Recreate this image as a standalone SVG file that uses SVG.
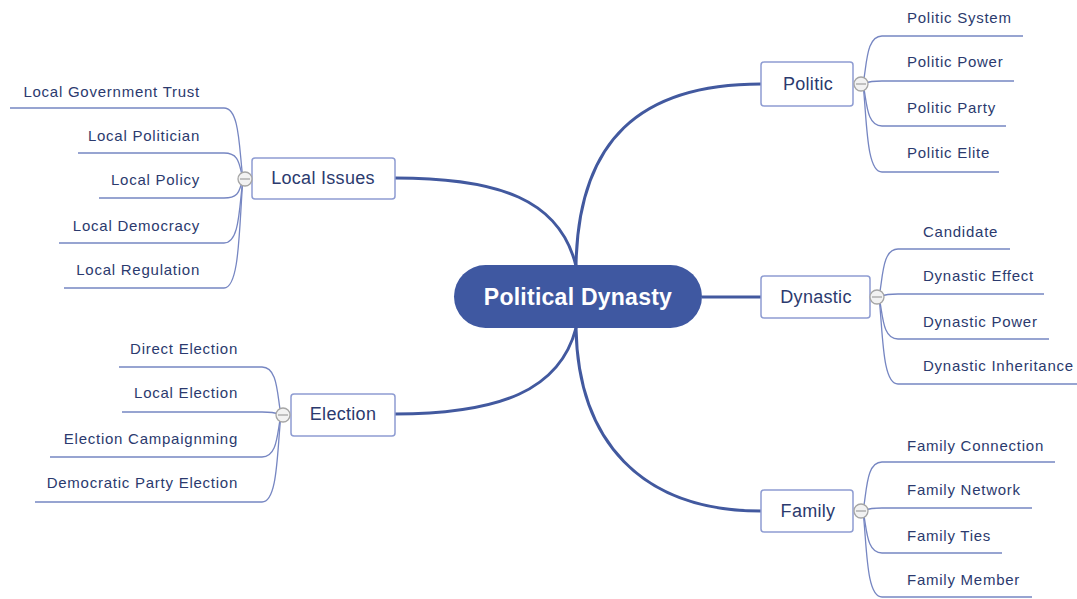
<svg xmlns="http://www.w3.org/2000/svg" width="1077" height="599" viewBox="0 0 1077 599">
<style>
.main{fill:none;stroke:#42599f;stroke-width:3}
.sub{fill:none;stroke:#7686c2;stroke-width:1.3}
.box{fill:#fff;stroke:#8e9cd2;stroke-width:1.5}
.bt{font-family:"Liberation Sans",Arial,sans-serif;font-size:18px;fill:#2b3a6e;text-anchor:middle;letter-spacing:0.3px}
.ct{font-family:"Liberation Sans",Arial,sans-serif;font-size:15px;fill:#2b3a6e;letter-spacing:0.75px}
.ctr{text-anchor:end}
.tog circle{fill:#f2f2f2;stroke:#a5a5a5;stroke-width:1.3}
.tog line{stroke:#a5a5a5;stroke-width:1.3}
</style>
<rect width="1077" height="599" fill="#fff"/>
<g id="connectors">
<path class="main" d="M576,266 C578,140 640,84 761,84"/>
<path class="main" d="M576,266 C560,200 500,178 395,178"/>
<path class="main" d="M576,328 C560,390 500,414 395,414"/>
<path class="main" d="M576,328 C578,440 640,511 761,511"/>
<path class="main" d="M702,297 H761"/>
<path class="sub" d="M863,84 C867,65 866,36 882,36 H1023"/>
<path class="sub" d="M863,84 C867,83 866,81 882,81 H1014"/>
<path class="sub" d="M863,84 C867,101 866,126 882,126 H1006"/>
<path class="sub" d="M863,84 C867,119 866,172 882,172 H999"/>
<path class="sub" d="M879,297 C883,278 882,249 898,249 H1010"/>
<path class="sub" d="M879,297 C883,296 882,294 898,294 H1044"/>
<path class="sub" d="M879,297 C883,314 882,339 898,339 H1049"/>
<path class="sub" d="M879,297 C883,332 882,384 898,384 H1077"/>
<path class="sub" d="M863,511 C867,491 866,462 882,462 H1055"/>
<path class="sub" d="M863,511 C867,510 866,508 882,508 H1032"/>
<path class="sub" d="M863,511 C867,528 866,553 882,553 H1002"/>
<path class="sub" d="M863,511 C867,546 866,597 882,597 H1032"/>
<path class="sub" d="M243,179 C239,150 240,108 224,108 H10"/>
<path class="sub" d="M243,179 C239,165 240,153 224,153 H78"/>
<path class="sub" d="M243,179 C239,190 240,198 224,198 H99"/>
<path class="sub" d="M243,179 C239,207 240,243 224,243 H59"/>
<path class="sub" d="M243,179 C239,225 240,288 224,288 H64"/>
<path class="sub" d="M281,415 C277,395 278,367 262,367 H119"/>
<path class="sub" d="M281,415 C277,414 278,412 262,412 H122"/>
<path class="sub" d="M281,415 C277,432 278,457 262,457 H50"/>
<path class="sub" d="M281,415 C277,450 278,502 262,502 H35"/>
</g>
<g id="central">
<rect x="454" y="265" width="248" height="63" rx="31.5" fill="#3f58a1"/>
<text x="578" y="305" font-family="'Liberation Sans',Arial,sans-serif" font-size="23" font-weight="bold" fill="#fff" text-anchor="middle" letter-spacing="0.25">Political Dynasty</text>
</g>
<g id="politic">
<rect class="box" x="761" y="62" width="92" height="44" rx="3"/>
<text class="bt" x="808" y="90">Politic</text>
<g class="tog"><circle cx="861" cy="84" r="7"/><line x1="856" y1="84" x2="866" y2="84"/></g>
</g>
<g id="politic-children">
<text class="ct" x="907" y="23">Politic System</text>
<text class="ct" x="907" y="67">Politic Power</text>
<text class="ct" x="907" y="113">Politic Party</text>
<text class="ct" x="907" y="158">Politic Elite</text>
</g>
<g id="dynastic">
<rect class="box" x="761" y="276" width="109" height="42" rx="3"/>
<text class="bt" x="816" y="303">Dynastic</text>
<g class="tog"><circle cx="877" cy="297" r="7"/><line x1="872" y1="297" x2="882" y2="297"/></g>
</g>
<g id="dynastic-children">
<text class="ct" x="923" y="237">Candidate</text>
<text class="ct" x="923" y="281">Dynastic Effect</text>
<text class="ct" x="923" y="327">Dynastic Power</text>
<text class="ct" x="923" y="371">Dynastic Inheritance</text>
</g>
<g id="family">
<rect class="box" x="761" y="490" width="92" height="42" rx="3"/>
<text class="bt" x="808" y="517">Family</text>
<g class="tog"><circle cx="861" cy="511" r="7"/><line x1="856" y1="511" x2="866" y2="511"/></g>
</g>
<g id="family-children">
<text class="ct" x="907" y="451">Family Connection</text>
<text class="ct" x="907" y="495">Family Network</text>
<text class="ct" x="907" y="541">Family Ties</text>
<text class="ct" x="907" y="585">Family Member</text>
</g>
<g id="local-issues">
<rect class="box" x="252" y="158" width="143" height="41" rx="3"/>
<text class="bt" x="323" y="184">Local Issues</text>
<g class="tog"><circle cx="245" cy="179" r="7"/><line x1="240" y1="179" x2="250" y2="179"/></g>
</g>
<g id="local-children">
<text class="ct ctr" x="200" y="97">Local Government Trust</text>
<text class="ct ctr" x="200" y="141">Local Politician</text>
<text class="ct ctr" x="200" y="185">Local Policy</text>
<text class="ct ctr" x="200" y="231">Local Democracy</text>
<text class="ct ctr" x="200" y="275">Local Regulation</text>
</g>
<g id="election">
<rect class="box" x="291" y="394" width="104" height="42" rx="3"/>
<text class="bt" x="343" y="420">Election</text>
<g class="tog"><circle cx="283" cy="415" r="7"/><line x1="278" y1="415" x2="288" y2="415"/></g>
</g>
<g id="election-children">
<text class="ct ctr" x="238" y="354">Direct Election</text>
<text class="ct ctr" x="238" y="398">Local Election</text>
<text class="ct ctr" x="238" y="444">Election Campaignming</text>
<text class="ct ctr" x="238" y="488">Democratic Party Election</text>
</g>
</svg>
